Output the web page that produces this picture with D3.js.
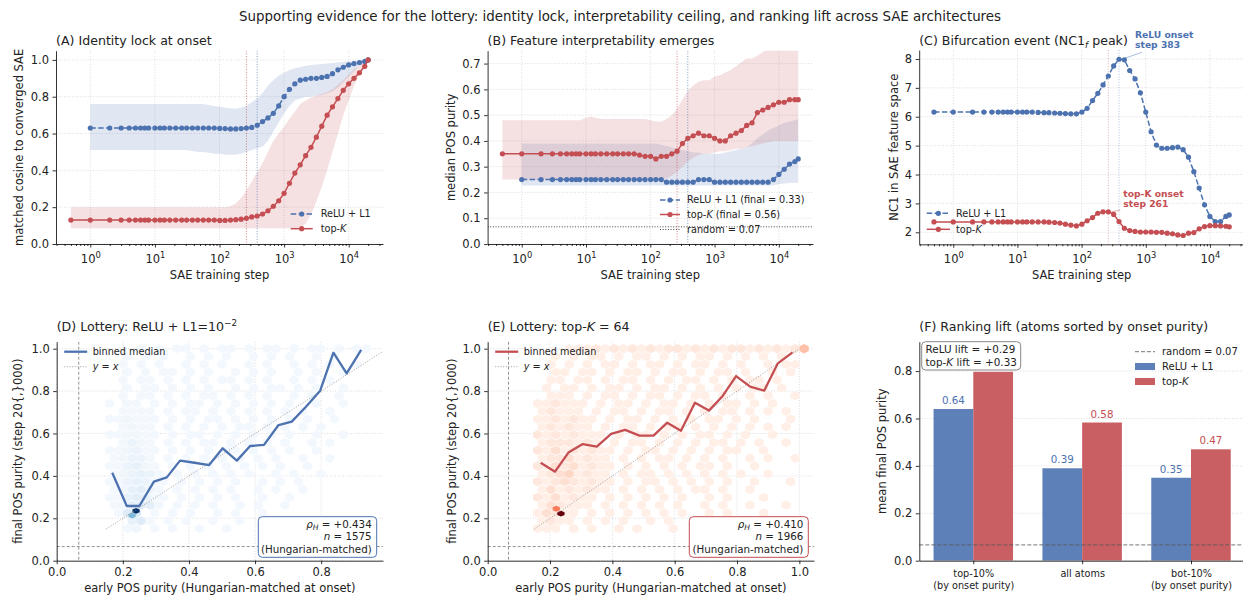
<!DOCTYPE html>
<html>
<head>
<meta charset="utf-8">
<title>lottery evidence</title>
<script src="https://cdn.jsdelivr.net/npm/d3@7/dist/d3.min.js"></script>
<style>
  body { margin: 0; background: #fff; }
  text { font-family: "DejaVu Sans", sans-serif; }
</style>
</head>
<body>
<svg id="fig" width="1243" height="596"></svg>
<script>
// ---------------- data ----------------
// SAE checkpoints; step 0 is drawn at 0.5 on the log axis
const steps = [0, 1, 2, 3, 4, 5, 6, 7, 8, 10, 12, 14, 17, 21, 26, 31, 38, 46, 56, 68, 83,
  101, 122, 148, 179, 216, 261, 316, 383, 464, 562, 681, 825, 1000, 1211, 1467, 1777, 2153,
  2608, 3159, 3827, 4636, 5616, 6803, 8241, 9983, 12093, 14650, 17747, 20000];
const onsetTopK = 261, onsetRelu = 383;
const randomPurity = 0.0667;

// (A) matched cosine to converged SAE
const cosRelu = [null, 0.63, 0.63, 0.63, 0.63, 0.63, 0.63, 0.63, 0.63, 0.63, 0.63, 0.63, 0.63, 0.63, 0.63, 0.63, 0.63, 0.63, 0.63, 0.63, 0.63,
  0.628, 0.627, 0.625, 0.625, 0.627, 0.63, 0.633, 0.645, 0.665, 0.685, 0.71, 0.75, 0.80, 0.84, 0.87, 0.89, 0.895, 0.90, 0.90, 0.905,
  0.91, 0.925, 0.946, 0.96, 0.973, 0.98, 0.986, 0.992, 1.0];
const cosReluLo = [null, 0.51, 0.51, 0.51, 0.51, 0.51, 0.51, 0.51, 0.51, 0.51, 0.51, 0.51, 0.51, 0.51, 0.51, 0.51,
  0.505, 0.50, 0.50, 0.495, 0.49, 0.49, 0.485, 0.485, 0.485, 0.49, 0.50, 0.51, 0.52, 0.53, 0.56, 0.61, 0.66, 0.71, 0.75, 0.78,
  0.79, 0.80, 0.80, 0.805, 0.81, 0.82, 0.83, 0.85, 0.88, 0.91, 0.94, 0.97, 0.99, 1.0];
const cosReluHi = [null, 0.76, 0.76, 0.76, 0.76, 0.76, 0.76, 0.76, 0.76, 0.76, 0.76, 0.76, 0.76, 0.76, 0.76, 0.76, 0.76, 0.76, 0.76,
  0.755, 0.75, 0.745, 0.74, 0.737, 0.735, 0.74, 0.75, 0.77, 0.79, 0.82, 0.86, 0.89, 0.915, 0.93, 0.945, 0.955, 0.962, 0.968, 0.972,
  0.975, 0.978, 0.98, 0.983, 0.986, 0.99, 0.992, 0.995, 0.997, 1.0, 1.0];
const cosTopK = [0.13, 0.13, 0.13, 0.13, 0.13, 0.13, 0.13, 0.13, 0.13, 0.13, 0.13, 0.13, 0.13, 0.13, 0.13, 0.13, 0.13, 0.13, 0.13, 0.13, 0.13,
  0.128, 0.128, 0.13, 0.132, 0.135, 0.14, 0.147, 0.152, 0.163, 0.18, 0.205, 0.235, 0.275, 0.33, 0.385, 0.43, 0.48, 0.525, 0.58,
  0.64, 0.70, 0.745, 0.79, 0.835, 0.87, 0.90, 0.93, 0.965, 1.0];
const cosTopKLo = [0.085, 0.085, 0.085, 0.085, 0.085, 0.085, 0.085, 0.085, 0.085, 0.085, 0.085, 0.085, 0.085, 0.085, 0.085, 0.085, 0.085, 0.085,
  0.085, 0.085, 0.085, 0.085, 0.085, 0.085, 0.085, 0.085, 0.085, 0.085, 0.085, 0.085, 0.085, 0.085, 0.085, 0.085, 0.085, 0.085,
  0.09, 0.11, 0.16, 0.23, 0.31, 0.40, 0.50, 0.60, 0.70, 0.78, 0.86, 0.92, 0.97, 1.0];
const cosTopKHi = [0.20, 0.20, 0.20, 0.20, 0.20, 0.20, 0.20, 0.20, 0.20, 0.20, 0.20, 0.20, 0.20, 0.20, 0.20, 0.20, 0.20, 0.20, 0.20, 0.20, 0.20,
  0.20, 0.20, 0.205, 0.22, 0.25, 0.29, 0.34, 0.39, 0.44, 0.50, 0.56, 0.60, 0.635, 0.68, 0.72, 0.76, 0.78, 0.795, 0.805, 0.815,
  0.825, 0.84, 0.865, 0.89, 0.92, 0.95, 0.97, 0.99, 1.0];

// (B) median POS purity
const purRelu = [null, 0.25, 0.25, 0.25, 0.25, 0.25, 0.25, 0.25, 0.25, 0.25, 0.25, 0.25, 0.25, 0.25, 0.25, 0.25, 0.25, 0.25, 0.25, 0.25, 0.25,
  0.25, 0.25, 0.25, 0.24, 0.24, 0.24, 0.24, 0.24, 0.24, 0.25, 0.25, 0.25, 0.24, 0.24, 0.24, 0.24, 0.24, 0.24, 0.24, 0.24, 0.24,
  0.24, 0.24, 0.25, 0.27, 0.29, 0.31, 0.32, 0.33];
const purReluLo = [null, 0.227, 0.227, 0.227, 0.227, 0.227, 0.227, 0.227, 0.227, 0.227, 0.227, 0.227, 0.227, 0.227, 0.227, 0.227, 0.227,
  0.227, 0.227, 0.227, 0.227, 0.227, 0.227, 0.227, 0.227, 0.227, 0.227, 0.227, 0.227, 0.227, 0.227, 0.227, 0.227, 0.227, 0.227,
  0.227, 0.227, 0.227, 0.227, 0.227, 0.227, 0.227, 0.227, 0.227, 0.227, 0.232, 0.235, 0.237, 0.238, 0.238];
const purReluHi = [null, 0.39, 0.39, 0.39, 0.39, 0.39, 0.39, 0.39, 0.39, 0.39, 0.39, 0.39, 0.39, 0.39, 0.39, 0.39, 0.39, 0.39, 0.39, 0.39, 0.39,
  0.39, 0.39, 0.385, 0.38, 0.375, 0.37, 0.365, 0.36, 0.355, 0.355, 0.35, 0.35, 0.35, 0.35, 0.355, 0.36, 0.365, 0.37, 0.375, 0.39,
  0.41, 0.425, 0.44, 0.45, 0.46, 0.47, 0.475, 0.48, 0.485];
const purTopK = [0.35, 0.35, 0.35, 0.35, 0.35, 0.35, 0.35, 0.35, 0.35, 0.35, 0.35, 0.35, 0.35, 0.35, 0.35, 0.35, 0.35, 0.35, 0.35,
  0.345, 0.34, 0.34, 0.33, 0.34, 0.34, 0.35, 0.36, 0.39, 0.41, 0.42, 0.43, 0.42, 0.42, 0.41, 0.40, 0.40, 0.42, 0.43, 0.44, 0.46,
  0.47, 0.51, 0.52, 0.53, 0.54, 0.55, 0.55, 0.56, 0.56, 0.56];
const purTopKLo = [0.25, 0.25, 0.25, 0.25, 0.25, 0.25, 0.25, 0.25, 0.25, 0.25, 0.25, 0.25, 0.25, 0.25, 0.25, 0.25, 0.25, 0.25, 0.25, 0.25,
  0.25, 0.25, 0.25, 0.25, 0.255, 0.265, 0.28, 0.30, 0.32, 0.335, 0.345, 0.35, 0.35, 0.355, 0.36, 0.36, 0.365, 0.37, 0.37, 0.375,
  0.38, 0.385, 0.39, 0.395, 0.40, 0.40, 0.40, 0.40, 0.40, 0.40];
const purTopKHi = [0.48, 0.48, 0.48, 0.48, 0.48, 0.48, 0.48, 0.48, 0.48, 0.49, 0.495, 0.49, 0.485, 0.485, 0.485, 0.485, 0.485, 0.485,
  0.485, 0.485, 0.485, 0.48, 0.475, 0.475, 0.485, 0.50, 0.525, 0.56, 0.595, 0.615, 0.63, 0.635, 0.635, 0.65, 0.655, 0.665, 0.675,
  0.69, 0.705, 0.72, 0.72, 0.73, 0.745, 0.76, 0.76, 0.76, 0.76, 0.76, 0.76, 0.76];

// (C) NC1 in SAE feature space
const nc1Relu = [6.16, 6.16, 6.16, 6.16, 6.16, 6.16, 6.16, 6.16, 6.16, 6.16, 6.16, 6.16, 6.16, 6.15, 6.14, 6.14, 6.13, 6.12, 6.11, 6.10,
  6.10, 6.16, 6.29, 6.56, 6.81, 7.10, 7.41, 7.76, 7.99, 7.97, 7.60, 7.31, 6.83, 6.16, 5.48, 5.02, 4.91, 4.91, 4.93, 4.95, 4.86,
  4.60, 4.10, 3.53, 2.95, 2.55, 2.37, 2.37, 2.55, 2.60];
const nc1TopK = [2.36, 2.36, 2.36, 2.36, 2.36, 2.36, 2.36, 2.36, 2.36, 2.36, 2.36, 2.36, 2.36, 2.36, 2.36, 2.35, 2.34, 2.32, 2.28, 2.25,
  2.22, 2.28, 2.40, 2.51, 2.66, 2.71, 2.71, 2.62, 2.37, 2.14, 2.06, 2.03, 2.01, 2.01, 2.01, 2.00, 2.00, 1.97, 1.95, 1.91, 1.89,
  1.97, 1.99, 2.12, 2.20, 2.23, 2.23, 2.22, 2.21, 2.19];

// (D) ReLU lottery: binned median of final vs early purity
const reluBinX = [0.168, 0.212, 0.25, 0.294, 0.333, 0.373, 0.417, 0.461, 0.502, 0.545, 0.585, 0.627, 0.671, 0.711, 0.754, 0.797, 0.837, 0.877, 0.921];
const reluBinY = [0.415, 0.258, 0.258, 0.373, 0.393, 0.472, 0.462, 0.451, 0.53, 0.472, 0.541, 0.546, 0.64, 0.656, 0.726, 0.802, 0.981, 0.884, 0.994];
const reluRho = 0.434, reluN = 1575;
// hexbin counts (level 0-9), rows top (y = 1.0) to bottom
const reluHexRows = [
  "00010101101011010110101101011",
  "00101010010101001010100101000",
  "01010100101010010100101010010",
  "00101011010100101010010100100",
  "01011010101011010100101010000",
  "00101101010100101011010100100",
  "01011010101101010100101001000",
  "10110101011010101010100100100",
  "01111010110101010101010010000",
  "11211101010110101010101001000",
  "01211010101010110101010100000",
  "11221101011010101010100100100",
  "01321010101101010101001010000",
  "11231101010101101010100100000",
  "12331010101010101010010010000",
  "11342101010101010101001000000",
  "12343101010101010010100100000",
  "11343110101010100101010000000",
  "12453101010101001010010000000",
  "11454110101010100100100000000",
  "12565101010100101001000000000",
  "01670101010010100100000000000",
  "00461010100100100000000000000",
  "00120101001001000000000000000"];
const reluHot = [[0.228, 0.213, 0.45], [0.24, 0.235, 1.0]];

// (E) top-K lottery
const topkBinX = [0.170, 0.216, 0.259, 0.305, 0.350, 0.396, 0.441, 0.487, 0.532, 0.576, 0.620, 0.665, 0.710, 0.754, 0.797, 0.842, 0.887, 0.931, 0.978];
const topkBinY = [0.462, 0.42, 0.51, 0.55, 0.538, 0.598, 0.617, 0.59, 0.59, 0.651, 0.613, 0.745, 0.708, 0.777, 0.871, 0.821, 0.802, 0.931, 0.983];
const topkRho = 0.410, topkN = 1966;
const topkHexRows = [
  "000111212121212212121221212126",
  "001010110101101010110101010100",
  "010101011010110101101010010110",
  "001101101011010110101101001010",
  "011011010110101011010101101000",
  "010110101101011010101010110100",
  "011101011010110101101001010010",
  "112111010110101101010110101000",
  "121110101101011010101101010100",
  "112121101011010101011010100010",
  "121211010110101101010101010100",
  "212121110101101010110101001000",
  "122212101011010101011010100100",
  "213121211010110101010110010000",
  "122312110101011010101001010010",
  "213231211010101010110100100000",
  "123412110101101010101010010000",
  "212321211010110101010100100010",
  "131212110101010101101001000000",
  "213121101010101010010100010000",
  "132111010101010100101001000100",
  "132110101010101010010100010000",
  "121101010100101001010000100000",
  "111010100101000100010000000000"];
const topkHot = [[0.22, 0.245, 0.45], [0.235, 0.222, 1.0]];

// (F) ranking lift
const liftGroups = [["top-10%", "(by onset purity)"], ["all atoms"], ["bot-10%", "(by onset purity)"]];
const liftRelu = [0.64, 0.39, 0.35];
const liftTopK = [0.797, 0.583, 0.47];

// ---------------- drawing ----------------
const svg = d3.select("#fig");
const BLUE = "#4c72b0", RED = "#c44e52", INK = "#222";
const TICK_FS = "11.5px", LAB_FS = "11.5px", TITLE_FS = "12.6px";
const f2 = d3.format(".2f"), fsign = d3.format("+.2f"), fsign3 = d3.format("+.3f"), f1 = d3.format(".1f");

svg.append("text").attr("x", 620).attr("y", 21).attr("text-anchor", "middle")
  .style("font-size", "13.4px").attr("fill", INK)
  .text("Supporting evidence for the lottery: identity lock, interpretability ceiling, and ranking lift across SAE architectures");

// rich text: parts are strings or {t, i, b, s (shift px), fs}
function rich(sel, parts) {
  let cur = 0;
  parts.forEach(p => {
    if (typeof p === "string") p = {t: p};
    const s = p.s || 0;
    const ts = sel.append("tspan").text(p.t);
    if (s !== cur) { ts.attr("dy", s - cur); cur = s; }
    if (p.i) ts.style("font-style", "italic");
    if (p.b) ts.style("font-weight", "bold");
    if (p.fs) ts.style("font-size", p.fs);
  });
  return sel;
}

let clipId = 0;
function frame(box) {
  const g = svg.append("g");
  const id = "clip" + (clipId++);
  g.append("clipPath").attr("id", id).append("rect")
    .attr("x", box.l).attr("y", box.t).attr("width", box.r - box.l).attr("height", box.b - box.t);
  return {
    g: g,
    grid: g.append("g"),
    data: g.append("g").attr("clip-path", `url(#${id})`),
    axes: g.append("g"),
    over: g.append("g")
  };
}

function grid(layer, box, x, y, xv, yv) {
  const st = s => s.attr("stroke", "#b0b0b0").attr("stroke-opacity", 0.55)
    .attr("stroke-width", 0.8).attr("stroke-dasharray", "1,1.65");
  layer.selectAll(null).data(xv).join("line")
    .attr("x1", d => x(d)).attr("x2", d => x(d)).attr("y1", box.t).attr("y2", box.b).call(st);
  layer.selectAll(null).data(yv).join("line")
    .attr("y1", d => y(d)).attr("y2", d => y(d)).attr("x1", box.l).attr("x2", box.r).call(st);
}

function styleAxis(sel) {
  sel.select(".domain").attr("stroke", "#000").attr("stroke-width", 0.8);
  sel.selectAll(".tick line").attr("stroke", "#000").attr("stroke-width", 0.8);
  sel.selectAll(".tick text").attr("fill", INK).style("font-size", TICK_FS)
    .style("font-family", "DejaVu Sans, sans-serif");
}

function yAxis(layer, box, y, ticks, fmt) {
  layer.append("g").attr("transform", `translate(${box.l},0)`)
    .call(d3.axisLeft(y).tickValues(ticks).tickFormat(fmt).tickSize(3.5).tickSizeOuter(0).tickPadding(3.5))
    .call(styleAxis);
}

function xAxisLinear(layer, box, x, ticks, fmt) {
  layer.append("g").attr("transform", `translate(0,${box.b})`)
    .call(d3.axisBottom(x).tickValues(ticks).tickFormat(fmt).tickSize(3.5).tickSizeOuter(0).tickPadding(3.5))
    .call(styleAxis);
}

const logMajor = [1, 10, 100, 1000, 10000];
const logMinor = [];
[-1, 0, 1, 2, 3, 4].forEach(e => { for (let k = 2; k <= 9; k++) logMinor.push(k * Math.pow(10, e)); });

function xAxisLog(layer, box, x) {
  const [d0, d1] = x.domain();
  const minor = logMinor.filter(v => v >= d0 && v <= d1);
  layer.append("g").attr("transform", `translate(0,${box.b})`)
    .call(d3.axisBottom(x).tickValues(minor).tickFormat(() => "").tickSize(2).tickSizeOuter(0))
    .call(styleAxis).call(s => s.select(".domain").remove());
  const ax = layer.append("g").attr("transform", `translate(0,${box.b})`)
    .call(d3.axisBottom(x).tickValues(logMajor).tickFormat(() => "").tickSize(3.5).tickSizeOuter(0))
    .call(styleAxis);
  ax.selectAll(".tick").each(function (d) {
    const t = d3.select(this).append("text").attr("y", 18.5).attr("text-anchor", "middle")
      .attr("fill", INK).style("font-size", TICK_FS);
    rich(t, ["10", {t: String(Math.round(Math.log10(d))), s: -5, fs: "8.3px"}]);
  });
}

function titleAt(x, y, parts) {
  const t = svg.append("text").attr("x", x).attr("y", y).attr("fill", INK).style("font-size", TITLE_FS);
  rich(t, parts);
}
function xLabel(box, y, txt) {
  svg.append("text").attr("x", (box.l + box.r) / 2).attr("y", y).attr("text-anchor", "middle")
    .attr("fill", INK).style("font-size", LAB_FS).text(txt);
}
function yLabel(box, x, txt) {
  svg.append("text").attr("transform", `translate(${x},${(box.t + box.b) / 2}) rotate(-90)`)
    .attr("text-anchor", "middle").attr("dy", "0.35em").attr("fill", INK).style("font-size", LAB_FS).text(txt);
}

const stepX = s => s === 0 ? 0.5 : s;

function band(layer, x, y, lo, hi, color) {
  const pts = steps.map((s, i) => ({x: stepX(s), lo: lo[i], hi: hi[i]})).filter(d => d.lo != null);
  layer.append("path").datum(pts)
    .attr("d", d3.area().x(d => x(d.x)).y0(d => y(d.lo)).y1(d => y(d.hi)))
    .attr("fill", color).attr("fill-opacity", 0.17);
}

function series(layer, x, y, vals, color, dashed) {
  const pts = steps.map((s, i) => ({x: stepX(s), v: vals[i]})).filter(d => d.v != null);
  layer.append("path").datum(pts)
    .attr("d", d3.line().x(d => x(d.x)).y(d => y(d.v)))
    .attr("fill", "none").attr("stroke", color).attr("stroke-width", 1.5)
    .attr("stroke-dasharray", dashed ? "5.5,2.4" : null);
  layer.selectAll(null).data(pts).join("circle")
    .attr("cx", d => x(d.x)).attr("cy", d => y(d.v)).attr("r", 2.6).attr("fill", color);
}

function onsetLines(layer, box, x, op) {
  [[onsetTopK, RED], [onsetRelu, BLUE]].forEach(([s, c]) => {
    layer.append("line").attr("x1", x(s)).attr("x2", x(s)).attr("y1", box.t).attr("y2", box.b)
      .attr("stroke", c).attr("stroke-opacity", op).attr("stroke-width", 1).attr("stroke-dasharray", "1,1.65");
  });
}

// legend rows: kind = "lm" (line + marker), "line", "dot", "dash", "patch"
function legendRow(layer, x1, x2, tx, y, kind, color, parts, opts = {}) {
  const fs = opts.fs || "9.7px";
  if (kind === "patch") {
    layer.append("rect").attr("x", x1).attr("y", y - 3.5).attr("width", x2 - x1).attr("height", 7)
      .attr("fill", color).attr("fill-opacity", 0.9);
  } else {
    const l = layer.append("line").attr("x1", x1).attr("x2", x2).attr("y1", y).attr("y2", y)
      .attr("stroke", color).attr("stroke-width", opts.w || 1.5);
    if (opts.dash) l.attr("stroke-dasharray", opts.dash);
    if (opts.op) l.attr("stroke-opacity", opts.op);
    if (kind === "lm") layer.append("circle").attr("cx", (x1 + x2) / 2).attr("cy", y).attr("r", 2.6).attr("fill", color);
  }
  const t = layer.append("text").attr("x", tx).attr("y", y).attr("dy", "0.35em")
    .attr("fill", INK).style("font-size", fs);
  rich(t, parts);
}

const logDomain = [Math.pow(10, -0.531), Math.pow(10, 4.531)];

// ---------- (A) ----------
{
  const box = {l: 56, r: 383, t: 50.7, b: 244};
  const P = frame(box);
  const x = d3.scaleLog().domain(logDomain).range([box.l, box.r]);
  const y = d3.scaleLinear().domain([0, 1.05]).range([box.b, box.t]);
  const yt = [0, 0.2, 0.4, 0.6, 0.8, 1.0];
  grid(P.grid, box, x, y, logMajor, yt);
  band(P.data, x, y, cosReluLo, cosReluHi, BLUE);
  band(P.data, x, y, cosTopKLo, cosTopKHi, RED);
  onsetLines(P.data, box, x, 0.7);
  series(P.data, x, y, cosRelu, BLUE, true);
  series(P.data, x, y, cosTopK, RED, false);
  yAxis(P.axes, box, y, yt, f1);
  xAxisLog(P.axes, box, x);
  legendRow(P.over, 290.7, 312.7, 320.7, 214, "lm", BLUE, ["ReLU + L1"], {dash: "5.5,2.4"});
  legendRow(P.over, 290.7, 312.7, 320.7, 228.7, "lm", RED, ["top-", {t: "K", i: true}]);
  titleAt(box.l, 45, ["(A) Identity lock at onset"]);
  xLabel(box, 279, "SAE training step");
  yLabel(box, 19.3, "matched cosine to converged SAE");
}

// ---------- (B) ----------
{
  const box = {l: 487.6, r: 813, t: 50.7, b: 244};
  const P = frame(box);
  const x = d3.scaleLog().domain(logDomain).range([box.l, box.r]);
  const y = d3.scaleLinear().domain([0, 0.75]).range([box.b, box.t]);
  const yt = [0, 0.1, 0.2, 0.3, 0.4, 0.5, 0.6, 0.7];
  grid(P.grid, box, x, y, logMajor, yt);
  band(P.data, x, y, purReluLo, purReluHi, BLUE);
  band(P.data, x, y, purTopKLo, purTopKHi, RED);
  onsetLines(P.data, box, x, 0.7);
  P.data.append("line").attr("x1", box.l).attr("x2", box.r).attr("y1", y(randomPurity)).attr("y2", y(randomPurity))
    .attr("stroke", "#333").attr("stroke-width", 0.9).attr("stroke-dasharray", "1,1.65");
  series(P.data, x, y, purRelu, BLUE, true);
  series(P.data, x, y, purTopK, RED, false);
  yAxis(P.axes, box, y, yt, f1);
  xAxisLog(P.axes, box, x);
  legendRow(P.over, 660, 680, 687, 200, "lm", BLUE, [`ReLU + L1 (final = ${f2(purRelu[purRelu.length - 1])})`], {dash: "5.5,2.4"});
  legendRow(P.over, 660, 680, 687, 214.5, "lm", RED, ["top-", {t: "K", i: true}, ` (final = ${f2(purTopK[purTopK.length - 1])})`]);
  legendRow(P.over, 660, 680, 687, 229.5, "dot", "#333", [`random = ${f2(randomPurity)}`], {w: 0.9, dash: "1,1.65"});
  titleAt(box.l, 45, ["(B) Feature interpretability emerges"]);
  xLabel(box, 279, "SAE training step");
  yLabel(box, 451, "median POS purity");
}

// ---------- (C) ----------
{
  const box = {l: 919.2, r: 1244, t: 50, b: 244.3};
  const P = frame(box);
  const x = d3.scaleLog().domain(logDomain).range([box.l, box.r]);
  const y = d3.scaleLinear().domain([1.585, 8.31]).range([box.b, box.t]);
  const yt = [2, 3, 4, 5, 6, 7, 8];
  grid(P.grid, box, x, y, logMajor, yt);
  onsetLines(P.data, box, x, 0.45);
  series(P.data, x, y, nc1Relu, BLUE, true);
  series(P.data, x, y, nc1TopK, RED, false);
  yAxis(P.axes, box, y, yt, d3.format("d"));
  xAxisLog(P.axes, box, x);
  legendRow(P.over, 926.7, 950, 956, 213.3, "lm", BLUE, ["ReLU + L1"], {dash: "5.5,2.4"});
  legendRow(P.over, 926.7, 950, 956, 229.3, "lm", RED, ["top-", {t: "K", i: true}]);
  // onset annotations
  const iR = steps.indexOf(onsetRelu), iK = steps.indexOf(onsetTopK);
  const pr = [x(onsetRelu), y(nc1Relu[iR])], pk = [x(onsetTopK), y(nc1TopK[iK])];
  P.over.append("line").attr("x1", pr[0] + 3).attr("y1", pr[1]).attr("x2", pr[0] + 23).attr("y2", pr[1] - 7)
    .attr("stroke", BLUE).attr("stroke-opacity", 0.6).attr("stroke-width", 0.8);
  const ta = P.over.append("text").attr("fill", BLUE).style("font-size", "9.2px").style("font-weight", "bold");
  ta.append("tspan").attr("x", pr[0] + 16).attr("y", pr[1] - 21).text("ReLU onset");
  ta.append("tspan").attr("x", pr[0] + 16).attr("y", pr[1] - 11).text(`step ${onsetRelu}`);
  P.over.append("line").attr("x1", pk[0] + 3).attr("y1", pk[1]).attr("x2", pk[0] + 12).attr("y2", pk[1] - 1.5)
    .attr("stroke", RED).attr("stroke-opacity", 0.6).attr("stroke-width", 0.8);
  const tb = P.over.append("text").attr("fill", RED).style("font-size", "9.2px").style("font-weight", "bold");
  tb.append("tspan").attr("x", pk[0] + 15).attr("y", pk[1] - 15).text("top-K onset");
  tb.append("tspan").attr("x", pk[0] + 15).attr("y", pk[1] - 4.5).text(`step ${onsetTopK}`);
  titleAt(box.l, 45, ["(C) Bifurcation event (NC1", {t: "f", i: true, s: 3, fs: "8.8px"}, {t: " peak)", s: 0}]);
  xLabel(box, 279, "SAE training step");
  yLabel(box, 894, "NC1 in SAE feature space");
}

// ---------- hexbin lottery panels ----------
function hexPath(r, sy) {
  const pts = d3.range(6).map(i => {
    const a = Math.PI / 3 * i + Math.PI / 6;
    return [r * Math.cos(a), r * Math.sin(a) * sy];
  });
  return "M" + pts.map(p => p[0].toFixed(2) + "," + p[1].toFixed(2)).join("L") + "Z";
}

function lotteryPanel(cfg) {
  const box = cfg.box;
  const P = frame(box);
  const x = d3.scaleLinear().domain(cfg.xdom).range([box.l, box.r]);
  const y = d3.scaleLinear().domain([0, 1.033]).range([box.b, box.t]);
  const yt = [0, 0.2, 0.4, 0.6, 0.8, 1.0];
  grid(P.grid, box, x, y, cfg.xt, yt);
  // hex cells
  const dx = cfg.hexDx, dy = 0.0369, x0 = 0.16, y0 = 1.0 - (cfg.rows.length - 1) * dy;
  const r = (x(dx) - x(0)) / Math.sqrt(3);
  const cells = [];
  cfg.rows.forEach((row, k) => {
    const j = cfg.rows.length - 1 - k;
    for (let i = 0; i < row.length; i++) {
      const lv = +row[i];
      if (lv > 0) cells.push({x: x0 + i * dx + (j % 2) * dx / 2, y: y0 + j * dy, t: lv * cfg.levelStep, hot: false});
    }
  });
  cfg.hot.forEach(h => cells.push({x: h[0], y: h[1], t: h[2], hot: true}));
  const hpCell = hexPath(r + 0.1, 0.88), hpHot = hexPath(r * 0.8, 0.7);
  P.data.selectAll(null).data(cells).join("path")
    .attr("d", d => d.hot ? hpHot : hpCell).attr("transform", d => `translate(${x(d.x)},${y(d.y)})`)
    .attr("fill", d => cfg.cmap(d.t));
  // reference lines
  P.data.append("line").attr("x1", x(randomPurity)).attr("x2", x(randomPurity)).attr("y1", box.t).attr("y2", box.b)
    .attr("stroke", "#777").attr("stroke-width", 0.8).attr("stroke-dasharray", "3,2");
  P.data.append("line").attr("y1", y(randomPurity)).attr("y2", y(randomPurity)).attr("x1", box.l).attr("x2", box.r)
    .attr("stroke", "#777").attr("stroke-width", 0.8).attr("stroke-dasharray", "3,2");
  P.data.append("line").attr("x1", x(0.15)).attr("y1", y(0.15)).attr("x2", x(1.0)).attr("y2", y(1.0))
    .attr("stroke", "#888").attr("stroke-width", 0.8).attr("stroke-dasharray", "1,1.65");
  P.data.append("path").datum(cfg.binX.map((v, i) => [v, cfg.binY[i]]))
    .attr("d", d3.line().x(d => x(d[0])).y(d => y(d[1])))
    .attr("fill", "none").attr("stroke", cfg.color).attr("stroke-width", 2.3).attr("stroke-linejoin", "round");
  yAxis(P.axes, box, y, yt, f1);
  xAxisLinear(P.axes, box, x, cfg.xt, f1);
  // legend
  legendRow(P.over, box.l + 7.5, box.l + 30.5, box.l + 36, 351.7, "line", cfg.color, ["binned median"], {w: 2.3});
  legendRow(P.over, box.l + 7.5, box.l + 30.5, box.l + 36, 366.7, "dot", "#888", [{t: "y", i: true}, " = ", {t: "x", i: true}], {w: 0.8, dash: "1,1.65"});
  // stats box
  const bx = cfg.statBox;
  P.over.append("rect").attr("x", bx[0]).attr("y", 516.7).attr("width", bx[1] - bx[0]).attr("height", 40.6)
    .attr("rx", 4).attr("fill", "#fff").attr("stroke", cfg.color).attr("stroke-width", 1);
  const tx = bx[1] - 5;
  const t1 = P.over.append("text").attr("x", tx).attr("y", 527.5).attr("text-anchor", "end").attr("fill", INK).style("font-size", "10.3px");
  rich(t1, [{t: "ρ", i: true}, {t: "H", i: true, s: 2.5, fs: "7.6px"}, {t: ` = ${fsign3(cfg.rho)}`, s: 0}]);
  const t2 = P.over.append("text").attr("x", tx).attr("y", 540).attr("text-anchor", "end").attr("fill", INK).style("font-size", "10.3px");
  rich(t2, [{t: "n", i: true}, ` = ${cfg.n}`]);
  P.over.append("text").attr("x", tx).attr("y", 552.5).attr("text-anchor", "end").attr("fill", INK).style("font-size", "10.3px")
    .text("(Hungarian-matched)");
  titleAt(box.l, 331, cfg.title);
  xLabel(box, 592, "early POS purity (Hungarian-matched at onset)");
  yLabel(box, cfg.ylabX, "final POS purity (step 20{,}000)");
}

lotteryPanel({
  box: {l: 56.7, r: 383, t: 341.7, b: 560.7}, xdom: [0, 0.987], xt: [0, 0.2, 0.4, 0.6, 0.8],
  rows: reluHexRows, hexDx: 0.0272, levelStep: 0.02, cmap: d3.interpolateBlues, hot: reluHot,
  binX: reluBinX, binY: reluBinY, color: BLUE, rho: reluRho, n: reluN, statBox: [258.3, 376.7],
  title: ["(D) Lottery: ReLU + L1=10", {t: "−2", s: -5, fs: "8.8px"}], ylabX: 18.3
});
lotteryPanel({
  box: {l: 487.7, r: 814, t: 341.7, b: 560.7}, xdom: [0, 1.047], xt: [0, 0.2, 0.4, 0.6, 0.8, 1.0],
  rows: topkHexRows, hexDx: 0.029, levelStep: 0.038, cmap: d3.interpolateReds, hot: topkHot,
  binX: topkBinX, binY: topkBinY, color: RED, rho: topkRho, n: topkN, statBox: [689.3, 808.3],
  title: ["(E) Lottery: top-", {t: "K", i: true}, " = 64"], ylabX: 451.7
});

// ---------- (F) ----------
{
  const box = {l: 919.3, r: 1245, t: 341.7, b: 560.7};
  const P = frame(box);
  const x = d3.scaleLinear().domain([-0.496, 2.496]).range([box.l, box.r]);
  const y = d3.scaleLinear().domain([0, 0.924]).range([box.b, box.t]);
  const yt = [0, 0.2, 0.4, 0.6, 0.8];
  const w = 0.365;
  grid(P.grid, box, x, y, [], yt);
  const bars = [];
  liftGroups.forEach((g, i) => {
    bars.push({i: i, x0: i - w, v: liftRelu[i], c: BLUE});
    bars.push({i: i, x0: i, v: liftTopK[i], c: RED});
  });
  P.data.selectAll(null).data(bars).join("rect")
    .attr("x", d => x(d.x0)).attr("width", d => x(d.x0 + w) - x(d.x0))
    .attr("y", d => y(d.v)).attr("height", d => y(0) - y(d.v))
    .attr("fill", d => d.c).attr("fill-opacity", 0.9);
  P.data.selectAll(null).data(bars).join("text")
    .attr("x", d => (x(d.x0) + x(d.x0 + w)) / 2).attr("y", d => y(d.v) - 5)
    .attr("text-anchor", "middle").attr("fill", d => d.c).style("font-size", "10.3px")
    .text(d => f2(d.v));
  P.data.append("line").attr("x1", box.l).attr("x2", box.r).attr("y1", y(randomPurity)).attr("y2", y(randomPurity))
    .attr("stroke", "#555").attr("stroke-opacity", 0.8).attr("stroke-width", 1).attr("stroke-dasharray", "4,2");
  yAxis(P.axes, box, y, yt, f1);
  const ax = P.axes.append("g").attr("transform", `translate(0,${box.b})`)
    .call(d3.axisBottom(x).tickValues([0, 1, 2]).tickFormat(() => "").tickSize(3.5).tickSizeOuter(0))
    .call(styleAxis);
  ax.selectAll(".tick").each(function (d) {
    const t = d3.select(this).append("text").attr("text-anchor", "middle").attr("fill", INK).style("font-size", "9.7px");
    liftGroups[d].forEach((line, k) => t.append("tspan").attr("x", 0).attr("y", 16.5 + k * 12).text(line));
  });
  // legend
  legendRow(P.over, 1135, 1155, 1162, 351.7, "dash", "#555", [`random = ${f2(randomPurity)}`], {w: 1, dash: "4,2", op: 0.8, fs: "10px"});
  legendRow(P.over, 1135, 1155, 1162, 366.5, "patch", BLUE, ["ReLU + L1"], {fs: "10px"});
  legendRow(P.over, 1135, 1155, 1162, 381.5, "patch", RED, ["top-", {t: "K", i: true}], {fs: "10px"});
  // lift box
  P.over.append("rect").attr("x", 921.7).attr("y", 341.7).attr("width", 99).attr("height", 28.3).attr("rx", 4)
    .attr("fill", "#fff").attr("stroke", "#888").attr("stroke-width", 1);
  const last = liftRelu.length - 1;
  const t1 = P.over.append("text").attr("x", 925.5).attr("y", 353).attr("fill", INK).style("font-size", "10.4px");
  rich(t1, [`ReLU lift = ${fsign(liftRelu[0] - liftRelu[last])}`]);
  const t2 = P.over.append("text").attr("x", 925.5).attr("y", 365.5).attr("fill", INK).style("font-size", "10.4px");
  rich(t2, ["top-", {t: "K", i: true}, ` lift = ${fsign(liftTopK[0] - liftTopK[last])}`]);
  titleAt(box.l, 331, ["(F) Ranking lift (atoms sorted by onset purity)"]);
  yLabel(box, 881.7, "mean final POS purity");
}
</script>
</body>
</html>
